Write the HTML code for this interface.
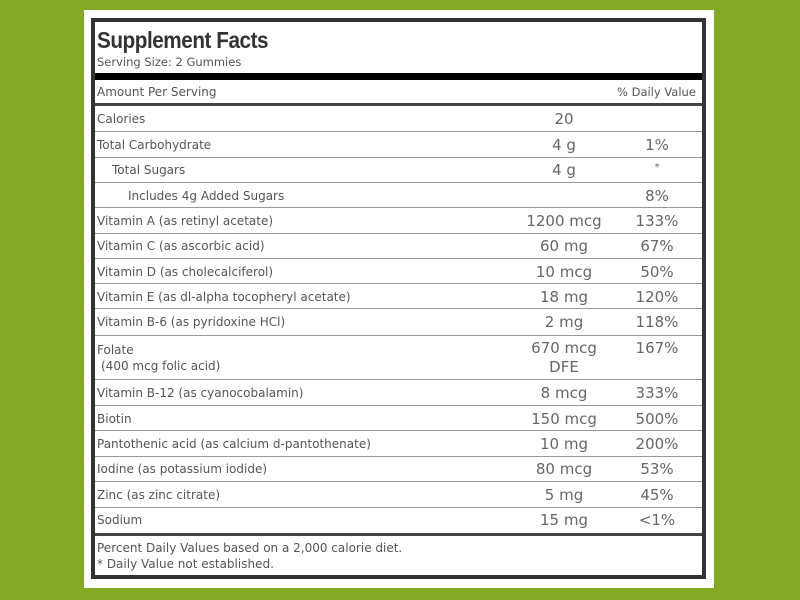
<!DOCTYPE html>
<html><head><style>
body{margin:0;width:800px;height:600px;background:#84a924;position:relative;overflow:hidden;font-family:"DejaVu Sans","Liberation Sans",sans-serif;color:#555}
.panel{position:absolute;left:84px;top:10px;width:630px;height:578px;background:#fff}
.box{position:absolute;left:91px;top:18px;width:607px;height:553px;border:4px solid #333}
.t{position:absolute;white-space:nowrap;font-size:12px;line-height:14px;transform:translateY(-50%)}
.v{position:absolute;white-space:nowrap;font-size:15px;line-height:16px;transform:translate(-50%,-50%);color:#666}
.l{position:absolute;left:95px;width:607px;height:1px;background:#999}
</style></head><body>
<div class="panel"></div>
<div class="box"></div>
<div style="position:absolute;left:97px;top:27px;font-family:'Liberation Sans',sans-serif;font-weight:bold;font-size:23px;color:#333;letter-spacing:-0.5px;transform:scaleX(0.9);transform-origin:left">Supplement Facts</div>
<div class="t" style="left:97px;top:62px;font-size:11.5px">Serving Size: 2 Gummies</div>
<div style="position:absolute;left:95px;top:73px;width:607px;height:7px;background:#000"></div>
<div class="t" style="left:97px;top:92px">Amount Per Serving</div>
<div class="t" style="left:617px;top:92px;font-size:11.5px">% Daily Value</div>
<div style="position:absolute;left:95px;top:103px;width:607px;height:3px;background:#444"></div>
<div style="position:absolute;left:95px;top:533px;width:607px;height:3px;background:#444"></div>
<div class="t" style="left:97px;top:548px">Percent Daily Values based on a 2,000 calorie diet.</div>
<div class="t" style="left:97px;top:564px">* Daily Value not established.</div>

<div class="l" style="top:131px"></div><div class="l" style="top:157px"></div><div class="l" style="top:182px"></div><div class="l" style="top:207px"></div><div class="l" style="top:233px"></div><div class="l" style="top:258px"></div><div class="l" style="top:283px"></div><div class="l" style="top:308px"></div><div class="l" style="top:335px"></div><div class="l" style="top:379px"></div><div class="l" style="top:405px"></div><div class="l" style="top:430px"></div><div class="l" style="top:456px"></div><div class="l" style="top:481px"></div><div class="l" style="top:507px"></div>

<div class="t" style="left:97px;top:119px">Calories</div><div class="v" style="left:564px;top:119px">20</div>
<div class="t" style="left:97px;top:145px">Total Carbohydrate</div><div class="v" style="left:564px;top:145px">4 g</div><div class="v" style="left:657px;top:145px">1%</div>
<div class="t" style="left:112px;top:170px">Total Sugars</div><div class="v" style="left:564px;top:170px">4 g</div><div class="v" style="left:657px;top:168px;font-size:10px">*</div>
<div class="t" style="left:128px;top:196px">Includes 4g Added Sugars</div><div class="v" style="left:657px;top:196px">8%</div>
<div class="t" style="left:97px;top:221px">Vitamin A (as retinyl acetate)</div><div class="v" style="left:564px;top:221px">1200 mcg</div><div class="v" style="left:657px;top:221px">133%</div>
<div class="t" style="left:97px;top:246px">Vitamin C (as ascorbic acid)</div><div class="v" style="left:564px;top:246px">60 mg</div><div class="v" style="left:657px;top:246px">67%</div>
<div class="t" style="left:97px;top:272px">Vitamin D (as cholecalciferol)</div><div class="v" style="left:564px;top:272px">10 mcg</div><div class="v" style="left:657px;top:272px">50%</div>
<div class="t" style="left:97px;top:297px">Vitamin E (as dl-alpha tocopheryl acetate)</div><div class="v" style="left:564px;top:297px">18 mg</div><div class="v" style="left:657px;top:297px">120%</div>
<div class="t" style="left:97px;top:322px">Vitamin B-6 (as pyridoxine HCl)</div><div class="v" style="left:564px;top:322px">2 mg</div><div class="v" style="left:657px;top:322px">118%</div>
<div class="t" style="left:97px;top:350px">Folate</div><div class="t" style="left:101px;top:366px">(400 mcg folic acid)</div><div class="v" style="left:564px;top:348px">670 mcg</div><div class="v" style="left:564px;top:367px">DFE</div><div class="v" style="left:657px;top:348px">167%</div>
<div class="t" style="left:97px;top:393px">Vitamin B-12 (as cyanocobalamin)</div><div class="v" style="left:564px;top:393px">8 mcg</div><div class="v" style="left:657px;top:393px">333%</div>
<div class="t" style="left:97px;top:419px">Biotin</div><div class="v" style="left:564px;top:419px">150 mcg</div><div class="v" style="left:657px;top:419px">500%</div>
<div class="t" style="left:97px;top:444px">Pantothenic acid (as calcium d-pantothenate)</div><div class="v" style="left:564px;top:444px">10 mg</div><div class="v" style="left:657px;top:444px">200%</div>
<div class="t" style="left:97px;top:469px">Iodine (as potassium iodide)</div><div class="v" style="left:564px;top:469px">80 mcg</div><div class="v" style="left:657px;top:469px">53%</div>
<div class="t" style="left:97px;top:495px">Zinc (as zinc citrate)</div><div class="v" style="left:564px;top:495px">5 mg</div><div class="v" style="left:657px;top:495px">45%</div>
<div class="t" style="left:97px;top:520px">Sodium</div><div class="v" style="left:564px;top:520px">15 mg</div><div class="v" style="left:657px;top:520px">&lt;1%</div>
</body></html>
